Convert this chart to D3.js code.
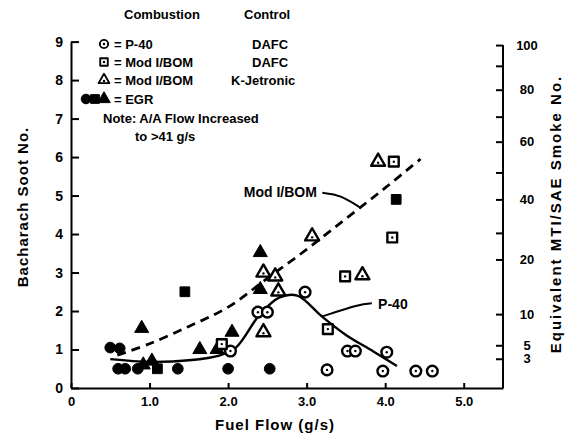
<!DOCTYPE html>
<html>
<head>
<meta charset="utf-8">
<script src="https://cdn.jsdelivr.net/npm/d3@7/dist/d3.min.js"></script>
<style>
    body { margin: 0; background: #fff; }
    text { font-family: "Liberation Sans", Arial, sans-serif; font-weight: bold; fill: #000; }
    .axis path, .axis line { stroke: #000; stroke-width: 2; }
</style>
</head>
<body>
<div class="graphic"></div>
<script>
// fuel flow (g/s), bacharach soot no.
var p40 = [[2.03, 0.96], [2.38, 1.97], [2.5, 1.97], [2.98, 2.49], [3.26, 0.47], [3.52, 0.96], [3.62, 0.96], [4.02, 0.93], [3.97, 0.44], [4.39, 0.44], [4.6, 0.44]];
var modDafc = [[1.92, 1.14], [3.27, 1.53], [3.49, 2.9], [4.09, 3.91], [4.11, 5.88]];
var modKjet = [[2.45, 3.0], [2.6, 2.9], [2.64, 2.51], [2.45, 1.45], [3.07, 3.94], [3.71, 2.93], [3.91, 5.88]];
var egrCircle = [[0.5, 1.05], [0.62, 1.03], [0.6, 0.5], [0.69, 0.5], [0.85, 0.5], [1.36, 0.5], [2.0, 0.5], [2.53, 0.5]];
var egrSquare = [[1.45, 2.5], [4.14, 4.9], [1.1, 0.5]];
var egrTriangle = [[0.9, 1.55], [0.92, 0.6], [1.03, 0.7], [1.64, 1.0], [1.86, 1.0], [2.05, 1.45], [2.41, 3.52], [2.41, 2.56]];

// fitted curves
var modCurve = [[0.59, 0.85], [1.0, 1.15], [1.5, 1.6], [2.0, 2.1], [2.5, 2.85], [3.0, 3.6], [3.5, 4.4], [4.0, 5.2], [4.45, 5.95]];
var p40Curve = [[0.5, 0.75], [1.0, 0.68], [1.5, 0.72], [1.9, 0.85], [2.1, 1.05], [2.4, 1.9], [2.65, 2.35], [2.88, 2.4], [3.2, 1.85], [3.5, 1.38], [3.85, 0.95], [4.15, 0.57]];

// leaders for the curve labels
var modLeader = [[3.2, 5.07], [3.43, 5.02], [3.68, 4.69]];
var p40Leader = [[3.83, 2.2], [3.68, 2.18], [3.2, 1.86]];

var xTicks = [0, 1, 2, 3, 4, 5];
var xTickLabels = ["0", "1.0", "2.0", "3.0", "4.0", "5.0"];
var yTicks = [0, 1, 2, 3, 4, 5, 6, 7, 8, 9];
var smokeTicks = [3, 5, 10, 20, 30, 40, 50, 60, 70, 80, 90, 100];
var smokeLabels = [3, 5, 10, 20, 40, 60, 80, 100];
var smokeAsBach = [0.76, 1.11, 1.92, 3.34, 4.03, 4.9, 5.6, 6.4, 7.05, 7.75, 8.37, 8.91];

var width = 578, height = 441;

var svg = d3.select(".graphic").append("svg")
    .attr("width", width)
    .attr("height", height);

var x = d3.scaleLinear().domain([0, 5.5]).range([71, 503]);
var y = d3.scaleLinear().domain([0, 9]).range([388, 41.6]);
var smokeY = d3.scaleLinear().domain(smokeTicks).range(smokeAsBach.map(function (d) { return y(d); }));

// axes
svg.append("g").attr("class", "axis")
    .attr("transform", "translate(0," + y(0) + ")")
    .call(d3.axisBottom(x).tickValues(xTicks).tickFormat(function (d, i) { return xTickLabels[i]; })
        .tickSizeInner(-5).tickSizeOuter(0).tickPadding(9))
    .call(function (g) { g.selectAll("text").style("font-size", "13px"); });

svg.append("g").attr("class", "axis")
    .attr("transform", "translate(" + x(0) + ",0)")
    .call(d3.axisLeft(y).tickValues(yTicks).tickFormat(d3.format("d"))
        .tickSizeInner(-8).tickSizeOuter(0).tickPadding(8))
    .call(function (g) { g.selectAll("text").style("font-size", "14px"); });

var right = svg.append("g").attr("class", "axis")
    .attr("transform", "translate(" + x(5.5) + ",0)")
    .call(d3.axisRight(smokeY).tickValues(smokeTicks)
        .tickFormat(function (d) { return smokeLabels.indexOf(d) >= 0 ? d : ""; })
        .tickSizeInner(-7).tickSizeOuter(0).tickPadding(24))
    .call(function (g) { g.select(".domain").remove(); });
right.selectAll("text").style("font-size", "13px").attr("text-anchor", "middle");
right.append("line")
    .attr("x1", 0).attr("x2", 0)
    .attr("y1", y(0)).attr("y2", smokeY(100));

// axis titles
svg.append("text")
    .attr("x", 275).attr("y", 430)
    .attr("text-anchor", "middle")
    .style("font-size", "15px")
    .style("letter-spacing", "1px")
    .text("Fuel Flow (g/s)");

svg.append("text")
    .attr("transform", "translate(28,207) rotate(-90)")
    .attr("text-anchor", "middle")
    .style("font-size", "15px")
    .style("letter-spacing", "1px")
    .text("Bacharach Soot No.");

svg.append("text")
    .attr("transform", "translate(561,214) rotate(-90)")
    .attr("text-anchor", "middle")
    .style("font-size", "15px")
    .style("letter-spacing", "2px")
    .text("Equivalent MTI/SAE Smoke No.");

// curves
var line = d3.line()
    .x(function (d) { return x(d[0]); })
    .y(function (d) { return y(d[1]); });

svg.append("path")
    .attr("d", line.curve(d3.curveCatmullRom)(modCurve))
    .attr("fill", "none").attr("stroke", "#000")
    .attr("stroke-width", 2.8).attr("stroke-dasharray", "9,6");

svg.append("path")
    .attr("d", line.curve(d3.curveCatmullRom)(p40Curve))
    .attr("fill", "none").attr("stroke", "#000")
    .attr("stroke-width", 2.4);

[modLeader, p40Leader].forEach(function (pts) {
    svg.append("path")
        .attr("d", line.curve(d3.curveBasis)(pts))
        .attr("fill", "none").attr("stroke", "#000")
        .attr("stroke-width", 2);
});

svg.append("text")
    .attr("x", x(3.13)).attr("y", y(5.08) + 5)
    .attr("text-anchor", "end")
    .style("font-size", "14px")
    .text("Mod I/BOM");

svg.append("text")
    .attr("x", x(3.91)).attr("y", y(2.18) + 5)
    .style("font-size", "14px")
    .text("P-40");

// markers
var symSize = { circle: 90, square: 95, triangle: 85 };
var symType = { circle: d3.symbolCircle, square: d3.symbolSquare, triangle: d3.symbolTriangle };

function drawMarks(data, shape, open) {
    var g = svg.append("g");
    var m = g.selectAll("g").data(data).join("g")
        .attr("transform", function (d) { return "translate(" + x(d[0]) + "," + y(d[1]) + ")"; });
    addMark(m, shape, open, 1);
}

function addMark(sel, shape, open, k) {
    sel.append("path")
        .attr("d", d3.symbol().type(symType[shape]).size(symSize[shape] * k)())
        .attr("fill", open ? "#fff" : "#000")
        .attr("stroke", "#000")
        .attr("stroke-width", open ? 2.4 * Math.sqrt(k) : 1)
        .attr("stroke-linejoin", "round");
    if (open) {
        sel.append("circle")
            .attr("cy", shape == "triangle" ? 1 : 0)
            .attr("r", 1.2).attr("fill", "#000");
    }
}

drawMarks(egrCircle, "circle", false);
drawMarks(egrSquare, "square", false);
drawMarks(egrTriangle, "triangle", false);
drawMarks(p40, "circle", true);
drawMarks(modDafc, "square", true);
drawMarks(modKjet, "triangle", true);

// legend
var legend = svg.append("g").style("font-size", "13px");
legend.append("text").attr("x", 124).attr("y", 19).text("Combustion");
legend.append("text").attr("x", 244).attr("y", 19).text("Control");

var legendRows = [
    { shapes: ["circle"], open: true, label: "= P-40", control: "DAFC", y: 44, cx: 252 },
    { shapes: ["square"], open: true, label: "= Mod I/BOM", control: "DAFC", y: 62, cx: 252 },
    { shapes: ["triangle"], open: true, label: "= Mod I/BOM", control: "K-Jetronic", y: 80, cx: 231 },
    { shapes: ["circle", "square", "triangle"], open: false, label: "= EGR", control: "", y: 99, cx: 0 }
];

legendRows.forEach(function (r) {
    r.shapes.forEach(function (s, i) {
        var mx = 104 - (r.shapes.length - 1 - i) * 9;
        addMark(legend.append("g").attr("transform", "translate(" + mx + "," + r.y + ")"), s, r.open, r.open ? 0.6 : 0.8);
    });
    legend.append("text").attr("x", 114).attr("y", r.y + 5).text(r.label);
    if (r.control) legend.append("text").attr("x", r.cx).attr("y", r.y + 5).text(r.control);
});

legend.append("text").attr("x", 103).attr("y", 123).text("Note: A/A Flow Increased");
legend.append("text").attr("x", 135).attr("y", 141).text("to >41 g/s");
</script>
</body>
</html>
